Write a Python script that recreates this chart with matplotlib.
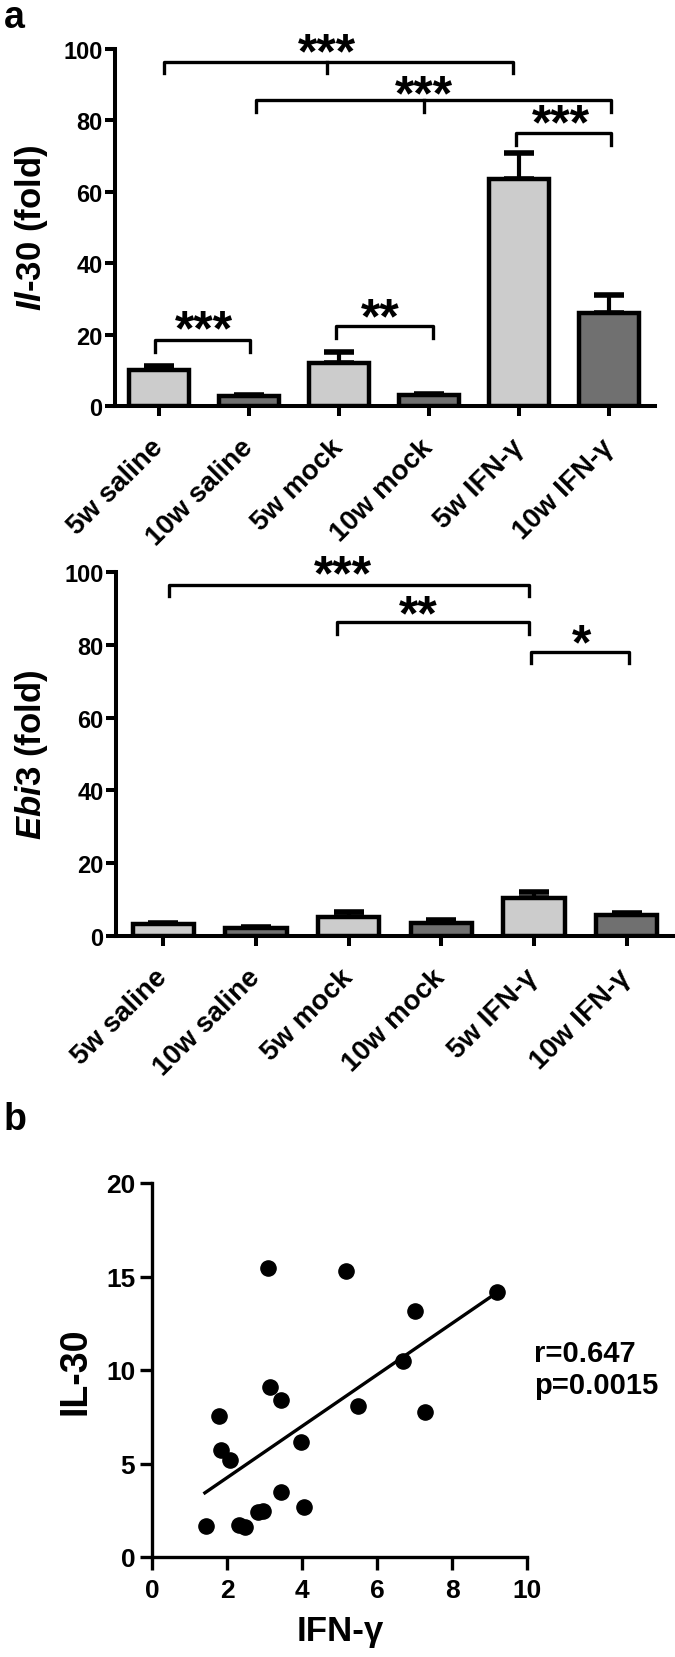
import numpy as np
import matplotlib.pyplot as plt

plt.rcParams['font.family'] = ['Liberation Sans', 'DejaVu Sans']
plt.rcParams['font.weight'] = 'bold'
plt.rcParams['mathtext.fontset'] = 'custom'
plt.rcParams['mathtext.rm'] = 'Liberation Sans:bold'
plt.rcParams['mathtext.it'] = 'Liberation Sans:italic:bold'
plt.rcParams['mathtext.bf'] = 'Liberation Sans:bold'

# ---- data ----
groups = ['5w saline', '10w saline', '5w mock', '10w mock', '5w IFN-γ', '10w IFN-γ']
bar_colors = ['#cccccc', '#707070', '#cccccc', '#707070', '#cccccc', '#707070']

il30_mean = [10.0, 2.7, 12.0, 3.0, 63.6, 26.0]
il30_err = [1.1, 0.5, 3.0, 0.4, 7.2, 5.0]
ebi3_mean = [3.2, 2.3, 5.3, 3.7, 10.5, 5.7]
ebi3_err = [0.4, 0.3, 1.2, 0.7, 1.7, 0.7]

# significance brackets (data coords)
il30_br_left = [0.05, 1.08, 3.96, -0.05, 1.97]
il30_br_right = [3.93, 5.02, 5.02, 1.01, 3.04]
il30_br_y = [96.3, 85.7, 76.4, 18.4, 22.3]
il30_br_foot = [93.3, 82.3, 73.2, 15.1, 19.0]
il30_br_mid = [True, True, False, False, False]
il30_stars = ['***', '***', '***', '***', '**']
il30_star_x = [1.86, 2.94, 4.46, 0.50, 2.46]
il30_star_y = [105.0, 93.2, 85.2, 27.4, 30.7]

ebi3_br_left = [0.06, 1.87, 3.97]
ebi3_br_right = [3.95, 3.95, 5.02]
ebi3_br_y = [96.4, 86.3, 78.0]
ebi3_br_foot = [93.5, 83.1, 75.0]
ebi3_br_mid = [False, False, False]
ebi3_stars = ['***', '**', '*']
ebi3_star_x = [1.94, 2.75, 4.51]
ebi3_star_y = [105.2, 94.2, 86.1]

# correlation panel
ifng = [1.44, 1.78, 1.84, 2.08, 2.33, 2.48, 2.82, 2.97, 3.10, 3.14,
        3.43, 3.43, 3.98, 4.06, 5.17, 5.49, 6.68, 7.02, 7.28, 9.21]
il30 = [1.66, 7.56, 5.71, 5.18, 1.71, 1.62, 2.42, 2.48, 15.43, 9.10,
        8.42, 3.47, 6.13, 2.70, 15.30, 8.08, 10.48, 13.14, 7.75, 14.19]
fit_x = [1.41, 9.17]
fit_y = [3.43, 14.10]


def style_axis(ax, lw, ticklen):
    for s in ['top', 'right']:
        ax.spines[s].set_visible(False)
    for s in ['left', 'bottom']:
        ax.spines[s].set_linewidth(lw)
    ax.tick_params(width=lw, length=ticklen)


def bar_panel(ax, means, errs, xlim):
    x = np.arange(len(groups))
    ax.bar(x, means, width=0.66, color=bar_colors, edgecolor='black',
           linewidth=3.2, zorder=3)
    ax.errorbar(x, means, yerr=[np.zeros(len(means)), errs], fmt='none',
                ecolor='black', elinewidth=3, capsize=11, capthick=4, zorder=2)
    ax.set_xlim(*xlim)
    ax.set_ylim(0, 100)
    ax.set_yticks([0, 20, 40, 60, 80, 100])
    ax.set_xticks(x)
    ax.set_xticklabels(groups, rotation=45, ha='right', va='center',
                       rotation_mode='anchor', fontsize=20)
    style_axis(ax, 2.9, 7.5)
    ax.tick_params(axis='y', labelsize=17, pad=1.5)
    ax.tick_params(axis='x', pad=19)


def brackets(ax, left, right, y, foot, mid, stars, sx, sy):
    for i in range(len(left)):
        ax.plot([left[i], left[i], right[i], right[i]],
                [foot[i], y[i], y[i], foot[i]],
                color='black', lw=2.4, clip_on=False, zorder=4)
        if mid[i]:
            ax.plot([sx[i], sx[i]], [y[i], foot[i]], color='black', lw=2.4,
                    clip_on=False, zorder=4)
        ax.text(sx[i], sy[i], stars[i], ha='center', va='top', fontsize=36,
                clip_on=False)


fig = plt.figure(figsize=(6.75, 16.58), dpi=100)
W, H = 675.0, 1658.0

ax1 = fig.add_axes([115 / W, 1 - 407 / H, 540 / W, 357 / H])
bar_panel(ax1, il30_mean, il30_err, (-0.49, 5.51))
brackets(ax1, il30_br_left, il30_br_right, il30_br_y, il30_br_foot,
         il30_br_mid, il30_stars, il30_star_x, il30_star_y)

ax2 = fig.add_axes([116 / W, 1 - 937 / H, 557 / W, 364 / H])
bar_panel(ax2, ebi3_mean, ebi3_err, (-0.51, 5.5))
brackets(ax2, ebi3_br_left, ebi3_br_right, ebi3_br_y, ebi3_br_foot,
         ebi3_br_mid, ebi3_stars, ebi3_star_x, ebi3_star_y)

ax3 = fig.add_axes([152 / W, 1 - 1558 / H, 375 / W, 374 / H])
ax3.scatter(ifng, il30, s=120, color='black', zorder=3, clip_on=False)
ax3.plot(fit_x, fit_y, color='black', lw=2.4)
ax3.set_xlim(0, 10)
ax3.set_ylim(0, 20)
ax3.set_xticks([0, 2, 4, 6, 8, 10])
ax3.set_yticks([0, 5, 10, 15, 20])
style_axis(ax3, 2.4, 9)
ax3.tick_params(labelsize=19, pad=3)
ax3.tick_params(axis='x', pad=6)
ax3.text(10.2, 10.05, 'r=0.647\np=0.0015', ha='left', va='center',
         fontsize=21, linespacing=1.2, clip_on=False)

# labels
fig.text(31 / W, 1 - 228 / H, r'$\mathit{Il}$-$\mathit{30}$ (fold)',
         rotation=90, ha='center', va='center', fontsize=25)
fig.text(31 / W, 1 - 755 / H, r'$\mathit{Ebi3}$ (fold)',
         rotation=90, ha='center', va='center', fontsize=25)
fig.text(76 / W, 1 - 1371 / H, 'IL-30', rotation=90, ha='center',
         va='center', fontsize=27)
fig.text(340 / W, 1 - 1641 / H, 'IFN-γ', ha='center', va='baseline',
         fontsize=25)
fig.text(4 / W, 1 - 28 / H, 'a', ha='left', va='baseline', fontsize=27)
fig.text(4 / W, 1 - 1130 / H, 'b', ha='left', va='baseline', fontsize=27)

fig.savefig('out.png', dpi=100)
